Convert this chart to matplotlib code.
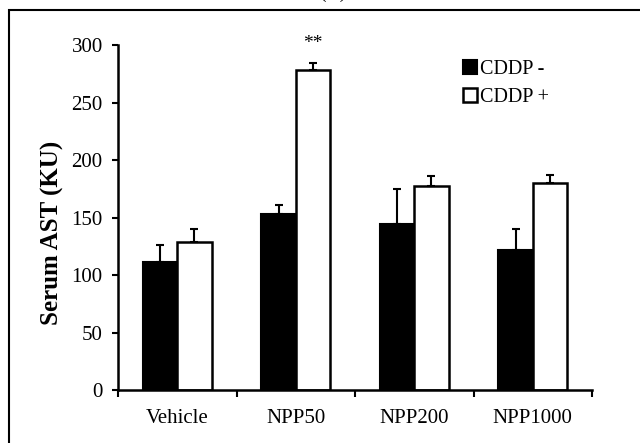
import numpy as np
import matplotlib
matplotlib.use("Agg")
import matplotlib.pyplot as plt
from matplotlib.patches import Rectangle

# ---- data ----
groups = ["Vehicle", "NPP50", "NPP200", "NPP1000"]
cddp_minus = [111, 153, 144, 122]
cddp_minus_err = [15, 8, 31, 18]
cddp_plus = [129, 278, 177, 180]
cddp_plus_err = [11, 6, 9, 7]
y_ticks = [0, 50, 100, 150, 200, 250, 300]

plt.rcParams.update({
    "font.family": ["Liberation Serif", "DejaVu Serif"],
    "font.size": 15,
})

fig = plt.figure(figsize=(6.4, 4.43), dpi=100)
ax = fig.add_axes([0.1844, 0.1196, 0.7406, 0.7788])

x = np.arange(len(groups))
w = 0.29
err_kw = dict(ecolor="black", elinewidth=1.5, capsize=3, capthick=1.5)

ax.bar(x - w / 2, cddp_minus, w, color="black", edgecolor="black", lw=1.5,
       yerr=[np.zeros(len(groups)), cddp_minus_err], error_kw=err_kw,
       label="CDDP -", zorder=2)
ax.bar(x + w / 2, cddp_plus, w, color="white", edgecolor="black", lw=1.8,
       yerr=[np.zeros(len(groups)), cddp_plus_err], error_kw=err_kw,
       label="CDDP +", zorder=2)

# significance mark
ax.text(x[1] + w / 2, 301, "**", ha="center", va="center", fontsize=14)

ax.set_xlim(-0.5, len(groups) - 0.5)
ax.set_ylim(0, 300)
ax.set_yticks(y_ticks)
ax.set_xticks(x)
ax.set_xticklabels(groups)
ax.set_xticks(np.arange(len(groups) + 1) - 0.5, minor=True)
ax.tick_params(axis="x", which="major", length=0, pad=14)
ax.tick_params(axis="x", which="minor", length=5, width=1.5, direction="out")
ax.tick_params(axis="y", length=4, width=1.5, direction="out", pad=7)

for s in ("top", "right"):
    ax.spines[s].set_visible(False)
for s in ("left", "bottom"):
    ax.spines[s].set_linewidth(1.8)

ax.set_ylabel("Serum AST (KU)", fontweight="bold", fontsize=18)
ax.yaxis.set_label_coords(-0.114, 0.455)

ax.legend(loc="upper left", bbox_to_anchor=(0.69, 1.01), frameon=False,
          handlelength=0.7, handleheight=0.7, handletextpad=0.15,
          labelspacing=0.45, fontsize=14.5)

# outer frame and cut-off panel title
fig.patches.append(Rectangle((9 / 640, -0.05), 1.0, 1 - 10 / 443 + 0.05,
                             transform=fig.transFigure, fill=False,
                             edgecolor="black", lw=1.5))
fig.text(0.52, 1.0 + 2 / 443, "(A)", ha="center", va="baseline", fontsize=14)

fig.savefig("out.png", dpi=100)
